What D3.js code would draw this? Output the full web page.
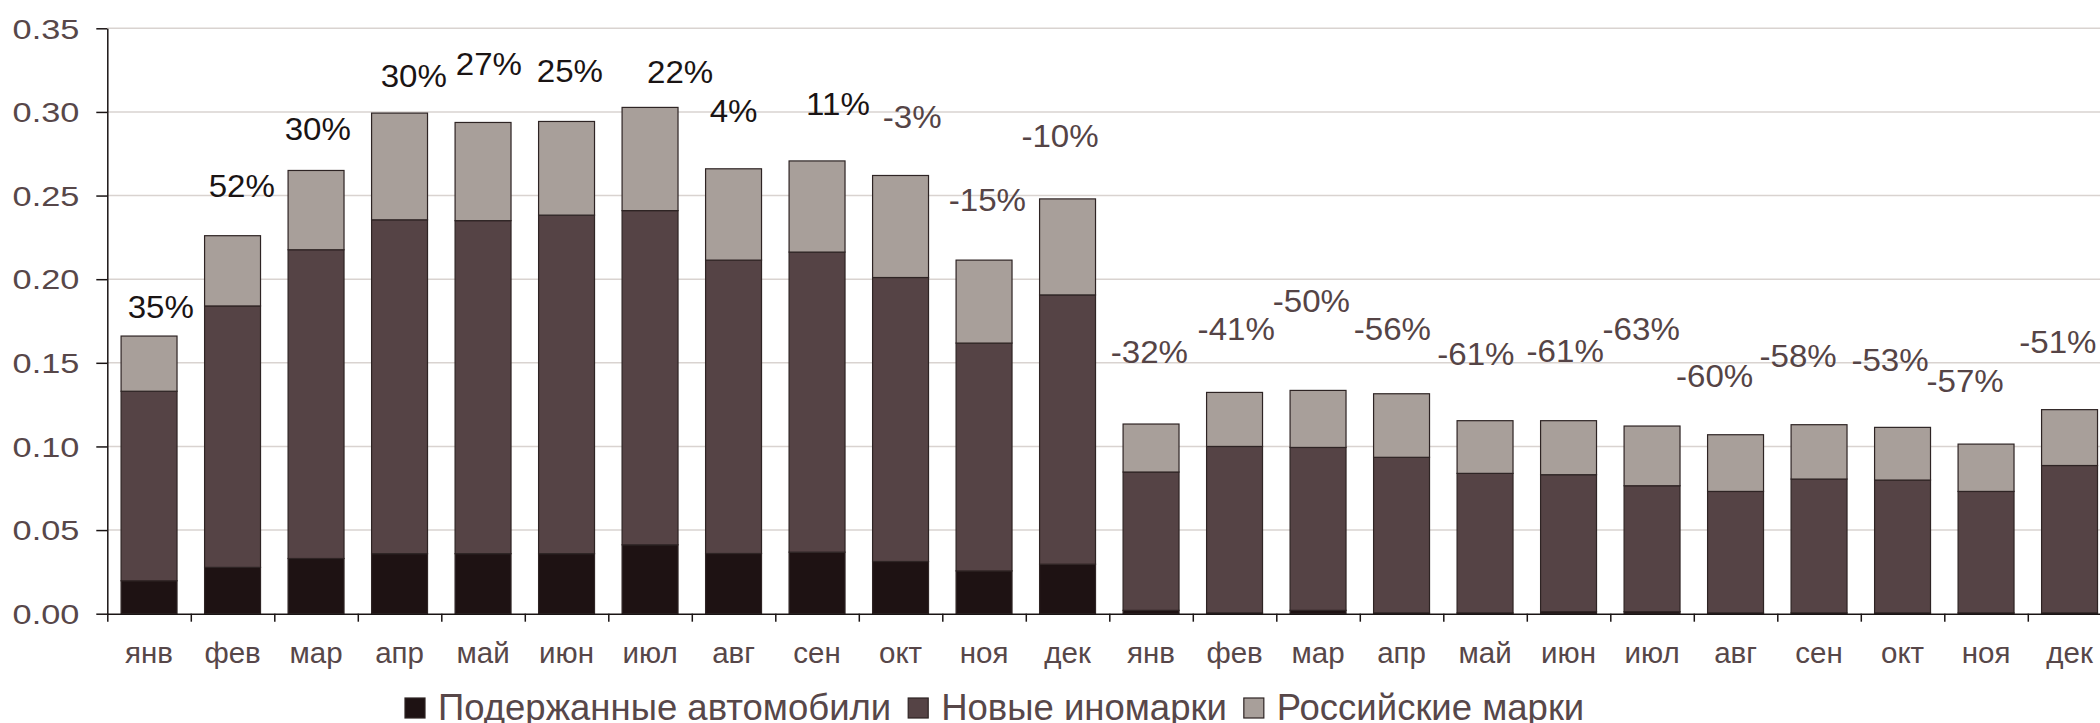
<!DOCTYPE html>
<html>
<head>
<meta charset="utf-8">
<script src="https://cdn.jsdelivr.net/npm/d3@7"></script>
<style>
  html, body { margin: 0; padding: 0; background: #fff; }
  svg { display: block; font-family: "Liberation Sans", Arial, sans-serif; }
</style>
</head>
<body>
<div class="plot-container"></div>
<script>
// *************************************
// DATA
// *************************************

const categories = ["янв", "фев", "мар", "апр", "май", "июн", "июл", "авг", "сен", "окт", "ноя", "дек",
                    "янв", "фев", "мар", "апр", "май", "июн", "июл", "авг", "сен", "окт", "ноя", "дек"];

// stack heights of each series
const usedCars = [0.0197, 0.0277, 0.0330, 0.0359, 0.0359, 0.0359, 0.0412, 0.0360, 0.0368, 0.0312, 0.0256, 0.0296,
                  0.0020, 0.0005, 0.0020, 0.0005, 0.0005, 0.0012, 0.0012, 0.0005, 0.0005, 0.0005, 0.0005, 0.0005];
const newForeign = [0.1133, 0.1563, 0.1846, 0.1996, 0.1991, 0.2024, 0.1998, 0.1754, 0.1794, 0.1698, 0.1362, 0.1610,
                    0.0827, 0.0995, 0.0974, 0.0930, 0.0834, 0.0819, 0.0753, 0.0726, 0.0800, 0.0794, 0.0726, 0.0881];
const russianBrands = [0.0330, 0.0420, 0.0474, 0.0638, 0.0587, 0.0560, 0.0617, 0.0546, 0.0545, 0.0610, 0.0496, 0.0574,
                       0.0287, 0.0323, 0.0341, 0.0380, 0.0315, 0.0323, 0.0357, 0.0339, 0.0325, 0.0315, 0.0283, 0.0334];

const seriesNames = ["Подержанные автомобили", "Новые иномарки", "Российские марки"];

// year-on-year change written over each bar
const growth = [35, 52, 30, 30, 27, 25, 22, 4, 11, -3, -15, -10,
                -32, -41, -50, -56, -61, -61, -63, -60, -58, -53, -57, -51];
// where the change label sits: value level and sideways nudge (in bands)
const labelLevel = [0.1768, 0.2493, 0.2832, 0.3147, 0.3221, 0.3181, 0.3175, 0.2942, 0.2982, 0.2904, 0.2409, 0.2790,
                    0.1497, 0.1636, 0.1802, 0.1636, 0.1487, 0.1505, 0.1636, 0.1357, 0.1477, 0.1451, 0.1326, 0.1559];
const labelNudge = [0.14, 0.11, 0.02, 0.17, 0.07, 0.04, 0.36, 0.0, 0.25, 0.14, 0.04, -0.09,
                    -0.02, 0.02, -0.08, -0.11, -0.11, -0.04, -0.13, -0.25, -0.25, -0.15, -0.25, -0.14];

const yTicks = [0, 0.05, 0.10, 0.15, 0.20, 0.25, 0.30, 0.35];

// *************************************
// LAYOUT
// *************************************

const width = 2100, height = 723;
const plot = { left: 107.3, right: 2111.3, top: 28.3, bottom: 613.7 };
const colors = ["#1e1213", "#554345", "#a89f9a"];
const textColor = "#574749";

const svg = d3.select("div.plot-container")
              .append("svg")
              .attr("width", width)
              .attr("height", height);

const rows = categories.map((c, i) => ({ i: i, used: usedCars[i], fresh: newForeign[i], russian: russianBrands[i] }));
const stack = d3.stack().keys(["used", "fresh", "russian"])(rows);

const x = d3.scaleBand()
            .domain(d3.range(categories.length))
            .range([plot.left, plot.right])
            .paddingInner(0.33)
            .paddingOuter(0.165);

const slots = d3.scaleLinear()
                .domain([0, categories.length])
                .range([plot.left, plot.right]);

const y = d3.scaleLinear()
            .domain([0, 0.35])
            .range([plot.bottom, plot.top]);

// *************************************
// GRID AND AXES
// *************************************

svg.append("g")
   .selectAll("line")
   .data(yTicks.slice(1))
   .join("line")
   .attr("x1", plot.left)
   .attr("x2", width)
   .attr("y1", d => y(d))
   .attr("y2", d => y(d))
   .attr("stroke", "#d9d3d0")
   .attr("stroke-width", 1.6);

// bars
svg.append("g")
   .selectAll("g")
   .data(stack)
   .join("g")
   .attr("fill", (d, k) => colors[k])
   .selectAll("rect")
   .data(d => d)
   .join("rect")
   .attr("x", d => x(d.data.i))
   .attr("width", x.bandwidth())
   .attr("y", d => y(d[1]))
   .attr("height", d => Math.max(0, y(d[0]) - y(d[1])))
   .attr("stroke", "#2e2424")
   .attr("stroke-width", 1.2);

let yAxis = svg.append("g")
               .attr("transform", `translate(${plot.left},0)`)
               .call(d3.axisLeft(y).tickValues(yTicks).tickFormat(d3.format(".2f")).tickSize(11).tickSizeOuter(0));
yAxis.select(".domain").attr("stroke", "#1a1414").attr("stroke-width", 1.5);
yAxis.selectAll(".tick line").attr("stroke", "#1a1414").attr("stroke-width", 1.5);
yAxis.selectAll(".tick text")
     .attr("x", 0)
     .attr("dy", "0.36em")
     .attr("transform", "translate(-28,0) scale(1.27,1)")
     .attr("fill", textColor)
     .style("font-size", "27px");

// bottom line with ticks between the months
let xTicks = svg.append("g")
                .attr("transform", `translate(0,${plot.bottom})`)
                .call(d3.axisBottom(slots).tickValues(d3.range(categories.length + 1)).tickFormat("").tickSize(8).tickSizeOuter(0));
xTicks.select(".domain").attr("stroke", "#1a1414").attr("stroke-width", 1.5);
xTicks.selectAll(".tick line").attr("stroke", "#1a1414").attr("stroke-width", 1.5);

let xAxis = svg.append("g")
               .attr("transform", `translate(0,${plot.bottom})`)
               .call(d3.axisBottom(x).tickFormat(i => categories[i]).tickSize(0));
xAxis.select(".domain").remove();
xAxis.selectAll(".tick text")
     .attr("y", 49)
     .attr("dy", 0)
     .attr("fill", textColor)
     .style("font-size", "29.5px");

// *************************************
// CHANGE LABELS
// *************************************

svg.append("g")
   .selectAll("text")
   .data(growth)
   .join("text")
   .attr("transform", (d, i) => `translate(${x(i) + x.bandwidth() / 2 + labelNudge[i] * x.step()},${y(labelLevel[i])}) scale(1.05,1)`)
   .attr("text-anchor", "middle")
   .attr("fill", d => d >= 0 ? "#1a1414" : "#554446")
   .style("font-size", "31.5px")
   .text(d => `${d}%`);

// *************************************
// LEGEND
// *************************************

let legend = svg.append("g");
let cursor = 405;
seriesNames.forEach((name, k) => {
  legend.append("rect")
        .attr("x", cursor)
        .attr("y", 698)
        .attr("width", 20)
        .attr("height", 20)
        .attr("fill", colors[k])
        .attr("stroke", "#2e2424")
        .attr("stroke-width", 1.2);
  let label = legend.append("text")
                    .attr("x", cursor + 33)
                    .attr("y", 720)
                    .attr("fill", textColor)
                    .style("font-size", "36.5px")
                    .text(name);
  cursor += 33 + label.node().getComputedTextLength() + 17;
});
</script>
</body>
</html>
